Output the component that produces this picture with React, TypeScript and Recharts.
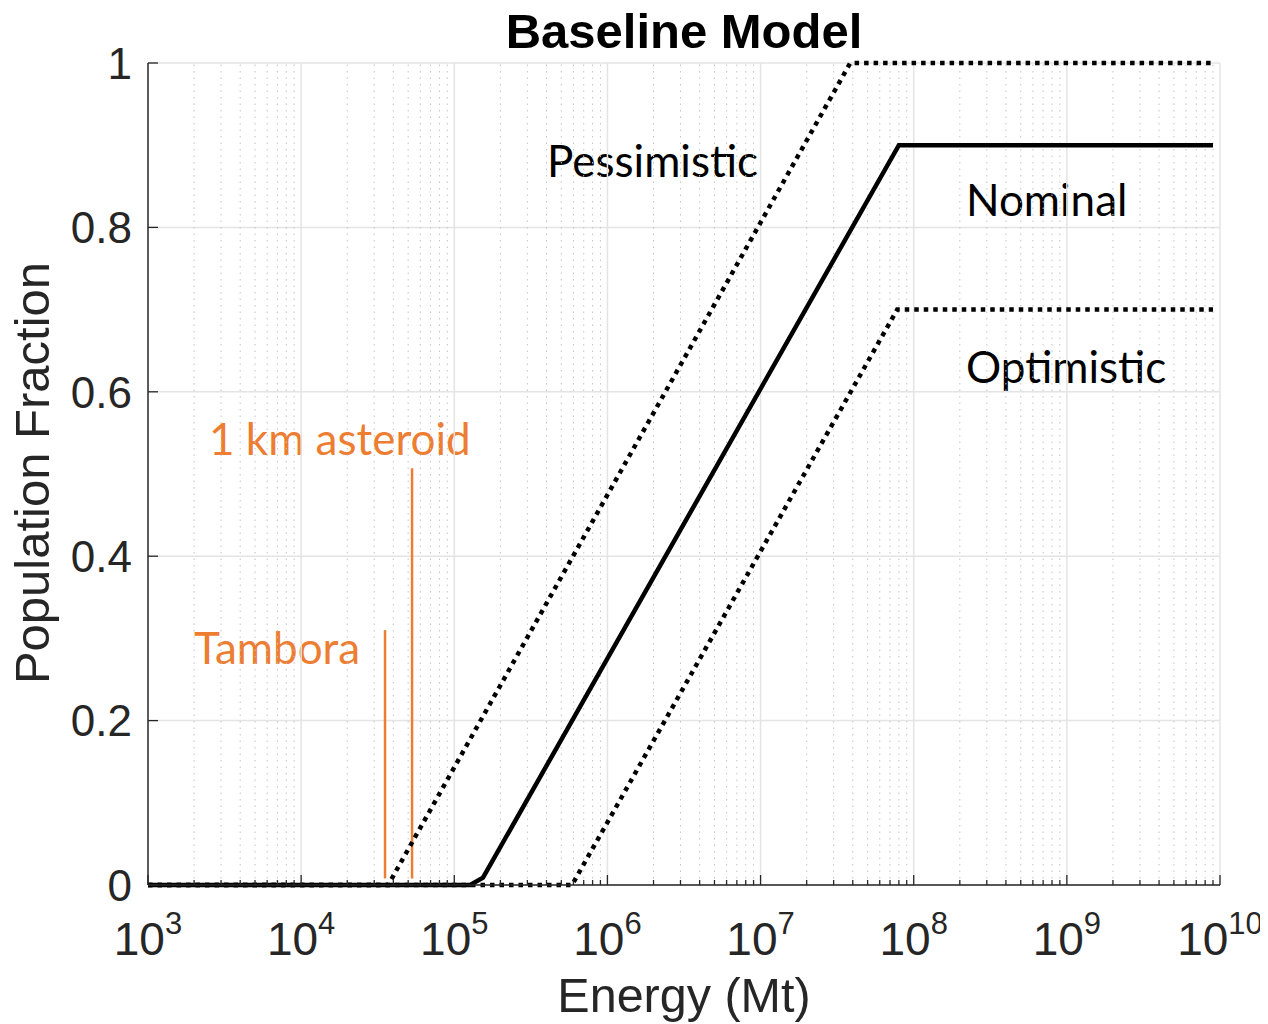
import React from "react";
import { LineChart, Line, XAxis, YAxis, CartesianGrid, ReferenceLine } from "recharts";

// axis ticks
const decadeTicks = [1e3, 1e4, 1e5, 1e6, 1e7, 1e8, 1e9, 1e10];
const decadeExponents = ["3", "4", "5", "6", "7", "8", "9", "10"];
const fractionTicks = [0, 0.2, 0.4, 0.6, 0.8, 1];
const fractionLabels = ["0", "0.2", "0.4", "0.6", "0.8", "1"];

// curves (energy in Mt, population fraction)
const nominalEnergy = [1e3, 1.27e5, 1.54e5, 8.0e7, 9.0e9];
const nominalFraction = [0, 0, 0.009, 0.9, 0.9];
const pessimisticEnergy = [1e3, 3.7e4, 3.85e7, 9.0e9];
const pessimisticFraction = [0, 0, 1, 1];
const optimisticEnergy = [1e3, 5.87e5, 7.8e7, 9.0e9];
const optimisticFraction = [0, 0, 0.7, 0.7];

// reference events
const eventNames = ["Tambora", "1 km asteroid"];
const eventEnergy = [3.53e4, 5.3e4];
const eventTop = [0.31, 0.507];
const eventBottom = [0.008, 0.008];

// minor log positions 2..9 x 10^n
const minorTicks: number[] = [];
for (let n = 3; n < 10; n++) {
  for (let k = 2; k <= 9; k++) minorTicks.push(k * Math.pow(10, n));
}
const allXTicks = [...decadeTicks, ...minorTicks].sort((a, b) => a - b);

const zip = (xs: number[], ys: number[]) => xs.map((e, i) => ({ e, f: ys[i] }));

const FONT = "'Liberation Sans', Arial, Helvetica, sans-serif";
const NOTE_FONT = "Lato, 'Open Sans', sans-serif";
const INK = "#262626";
const ORANGE = "#ED7D31";
const X_MARGIN = 70;
const Y_MARGIN = 16;

function EnergyTick(props: any) {
  const { x, y, payload } = props;
  const idx = decadeTicks.indexOf(payload.value);
  const axisY = y - X_MARGIN;
  return (
    <g>
      <line x1={x} x2={x} y1={axisY} y2={axisY - (idx >= 0 ? 10 : 5)} stroke={INK} strokeWidth={1.3} />
      {idx >= 0 && (
        <text x={x} y={y} textAnchor="middle" fontSize={46} fill={INK} fontFamily={FONT}>
          10
          <tspan dy={-21} fontSize={31}>
            {decadeExponents[idx]}
          </tspan>
        </text>
      )}
    </g>
  );
}

function FractionTick(props: any) {
  const { x, y, payload } = props;
  const idx = fractionTicks.indexOf(payload.value);
  const axisX = x + Y_MARGIN;
  return (
    <g>
      <line x1={axisX} x2={axisX + 10} y1={y} y2={y} stroke={INK} strokeWidth={1.3} />
      <text x={x} y={y} dy="0.36em" textAnchor="end" fontSize={44} fill={INK} fontFamily={FONT}>
        {fractionLabels[idx]}
      </text>
    </g>
  );
}

export default function App() {
  return (
    <div style={{ position: "relative", width: 1252, height: 1016 }}>
      <div style={{ position: "absolute", top: -8, left: -8, width: 1268, height: 1024 }}>
        <LineChart width={1268} height={1024} margin={{ top: 63, right: 48, left: 0, bottom: 59 }}>
          <CartesianGrid vertical={false} stroke="#e4e4e4" strokeWidth={1.5} />
          {minorTicks.map((m) => (
            <ReferenceLine key={"m" + m} x={m} stroke="#c4c4c4" strokeWidth={1} strokeDasharray="1.5 5" />
          ))}
          {decadeTicks.slice(1).map((d) => (
            <ReferenceLine key={"d" + d} x={d} stroke="#e4e4e4" strokeWidth={1.5} />
          ))}
          <XAxis
            dataKey="e"
            type="number"
            scale="log"
            domain={[1e3, 1e10]}
            ticks={allXTicks}
            interval={0}
            allowDataOverflow
            height={80}
            tickSize={0}
            tickMargin={X_MARGIN}
            tickLine={false}
            axisLine={{ stroke: INK, strokeWidth: 1.5 }}
            tick={<EnergyTick />}
          />
          <YAxis
            type="number"
            domain={[0, 1]}
            ticks={fractionTicks}
            interval={0}
            width={148}
            tickSize={0}
            tickMargin={Y_MARGIN}
            tickLine={false}
            axisLine={{ stroke: INK, strokeWidth: 1.5 }}
            tick={<FractionTick />}
          />
          {eventNames.map((name, i) => (
            <ReferenceLine
              key={name}
              segment={[
                { x: eventEnergy[i], y: eventBottom[i] },
                { x: eventEnergy[i], y: eventTop[i] },
              ]}
              stroke={ORANGE}
              strokeWidth={2.5}
            />
          ))}
          <Line
            data={zip(pessimisticEnergy, pessimisticFraction)}
            dataKey="f"
            stroke="#000"
            strokeWidth={4.5}
            strokeDasharray="4.5 5"
            dot={false}
            activeDot={false}
            isAnimationActive={false}
          />
          <Line
            data={zip(optimisticEnergy, optimisticFraction)}
            dataKey="f"
            stroke="#000"
            strokeWidth={4.5}
            strokeDasharray="4.5 5"
            dot={false}
            activeDot={false}
            isAnimationActive={false}
          />
          <Line
            data={zip(nominalEnergy, nominalFraction)}
            dataKey="f"
            stroke="#000"
            strokeWidth={4.5}
            dot={false}
            activeDot={false}
            isAnimationActive={false}
          />
          <text x={684} y={48} textAnchor="middle" fontSize={49} fontWeight="bold" fill="#000" fontFamily={FONT}>
            Baseline Model
          </text>
          <text x={684} y={1012} textAnchor="middle" fontSize={48.5} fill={INK} fontFamily={FONT}>
            Energy (Mt)
          </text>
          <text
            x={49}
            y={473}
            textAnchor="middle"
            fontSize={49}
            fill={INK}
            fontFamily={FONT}
            transform="rotate(-90 49 473)"
          >
            Population Fraction
          </text>
          <text x={547} y={177} fontSize={44} fill="#000" fontFamily={NOTE_FONT}>
            Pessimistic
          </text>
          <text x={966} y={216} fontSize={44} fill="#000" fontFamily={NOTE_FONT}>
            Nominal
          </text>
          <text x={966} y={383} fontSize={44} fill="#000" fontFamily={NOTE_FONT}>
            Optimistic
          </text>
          <text x={209} y={455} fontSize={44} fill={ORANGE} fontFamily={NOTE_FONT}>
            {eventNames[1]}
          </text>
          <text x={194} y={664} fontSize={44} fill={ORANGE} fontFamily={NOTE_FONT}>
            {eventNames[0]}
          </text>
        </LineChart>
      </div>
    </div>
  );
}
